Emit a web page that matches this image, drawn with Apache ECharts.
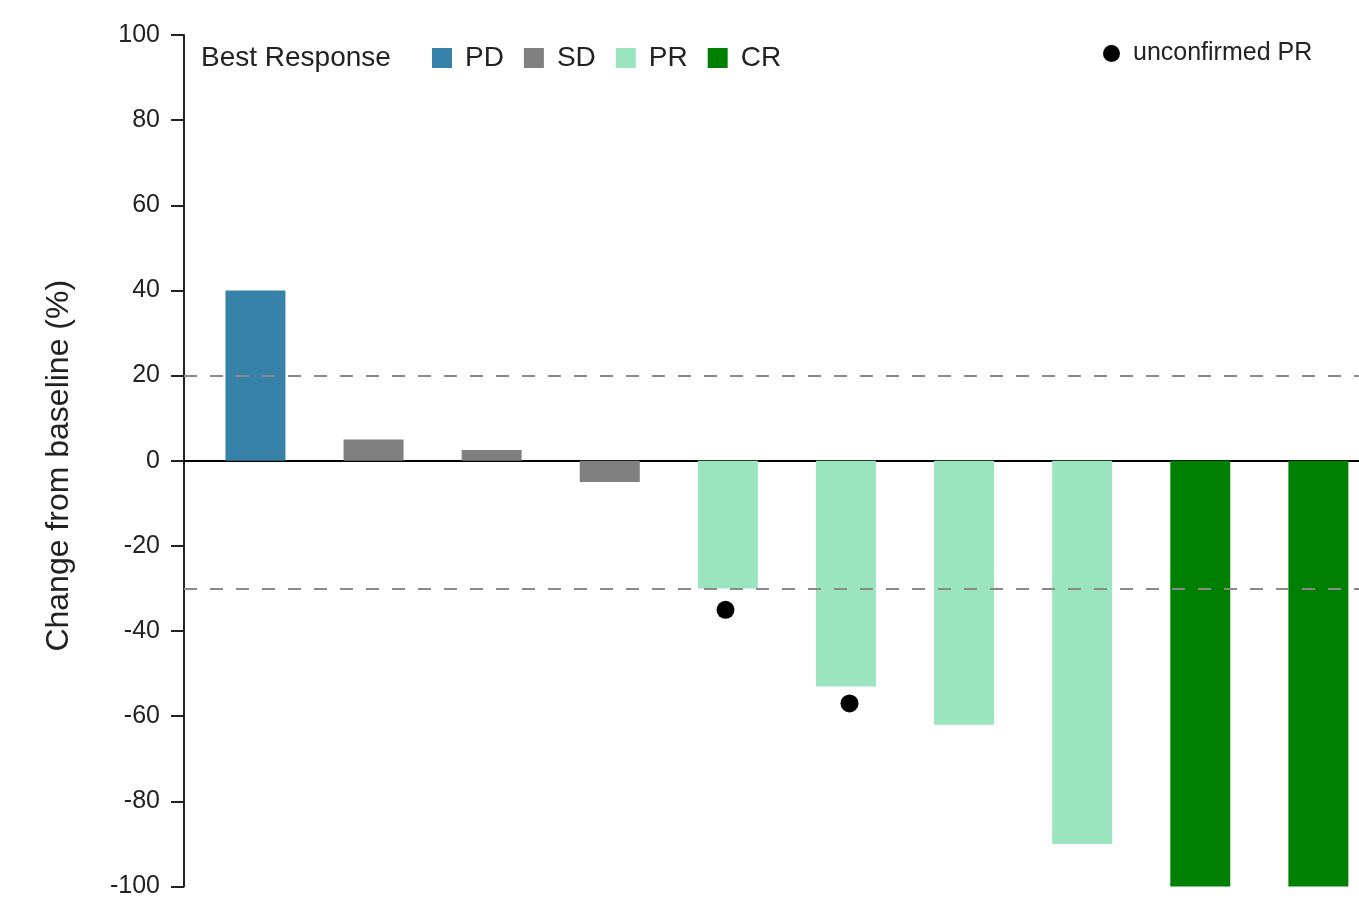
<!DOCTYPE html>
<html>
<head>
<meta charset="utf-8">
<script src="https://cdn.jsdelivr.net/npm/echarts@6/dist/echarts.min.js"></script>
<style>
  html, body { margin: 0; padding: 0; background: #fff; }
  #chart { width: 1359px; height: 899px; }
</style>
</head>
<body>
<div id="chart"></div>
<script>
// Patient positions along the x axis (one bar per patient, sorted by response)
const patients = [1, 2, 3, 4, 5, 6, 7, 8, 9, 10];
// Best percent change from baseline for each patient
const change = [40, 5, 2.5, -5, -30, -53, -62, -90, -100, -100];
// Best response category for each patient
const response = ['PD', 'SD', 'SD', 'SD', 'PR', 'PR', 'PR', 'PR', 'CR', 'CR'];
const categories = ['PD', 'SD', 'PR', 'CR'];
const colors = { PD: '#3682a8', SD: '#808080', PR: '#9ae5bd', CR: '#008000' };
// Unconfirmed PR markers: [x position, change %]
const unconfirmedX = [4.98, 6.03];
const unconfirmedY = [-35, -57];
// Reference thresholds
const thresholds = [20, -30];
const yTicks = { min: -100, max: 100, step: 20 };

const font = 'Liberation Sans, Arial, sans-serif';

const barSeries = categories.map((cat, ci) => ({
  name: cat,
  type: 'bar',
  barWidth: 60,
  barGap: '-100%',
  itemStyle: { color: colors[cat] },
  data: patients
    .map((p, i) => (response[i] === cat ? [p, change[i]] : null))
    .filter(Boolean),
  markLine: ci === 0 ? {
    silent: true,
    symbol: 'none',
    label: { show: false },
    lineStyle: { color: '#8a8a8a', width: 2, type: [13, 13] },
    data: thresholds.map(v => ({ yAxis: v }))
  } : undefined,
  z: 2
}));

const chart = echarts.init(document.getElementById('chart'));
chart.setOption({
  animation: false,
  backgroundColor: '#fff',
  textStyle: { fontFamily: font },
  title: {
    text: 'Best Response',
    left: 196,
    top: 39,
    textStyle: { fontFamily: font, fontSize: 28, fontWeight: 'normal', color: '#222' }
  },
  legend: [
    {
      data: categories,
      left: 427,
      top: 39,
      icon: 'rect',
      itemWidth: 20,
      itemHeight: 20,
      itemGap: 20,
      textStyle: { fontFamily: font, fontSize: 28, color: '#222', padding: [0, 0, 0, 8] }
    },
    {
      data: ['unconfirmed PR'],
      left: 1098,
      top: 36,
      icon: 'circle',
      itemWidth: 17,
      itemHeight: 17,
      itemStyle: { color: '#000', opacity: 1 },
      textStyle: { fontFamily: font, fontSize: 25, color: '#222', padding: [0, 0, 0, 8] }
    }
  ],
  grid: { left: 184, right: 0, top: 35, bottom: 10, containLabel: false },
  xAxis: {
    type: 'value',
    min: 0.395,
    max: 10.344,
    axisLine: { onZero: true, lineStyle: { color: '#000', width: 2 } },
    axisTick: { show: false },
    axisLabel: { show: false },
    splitLine: { show: false }
  },
  yAxis: {
    type: 'value',
    min: yTicks.min,
    max: yTicks.max,
    interval: yTicks.step,
    name: 'Change from baseline (%)',
    nameLocation: 'middle',
    nameGap: 109,
    nameTextStyle: { fontFamily: font, fontSize: 32, color: '#222', padding: [0, 10, 0, 0] },
    axisLine: { show: true, lineStyle: { color: '#222', width: 2 } },
    axisTick: { show: true, length: 13, lineStyle: { color: '#222', width: 2 } },
    axisLabel: { fontFamily: font, fontSize: 25, color: '#222', margin: 24 },
    splitLine: { show: false }
  },
  series: [
    ...barSeries,
    {
      name: 'unconfirmed PR',
      type: 'scatter',
      symbol: 'circle',
      symbolSize: 18,
      itemStyle: { color: '#000', opacity: 1 },
      data: unconfirmedX.map((x, i) => [x, unconfirmedY[i]]),
      z: 5
    }
  ]
});
</script>
</body>
</html>
